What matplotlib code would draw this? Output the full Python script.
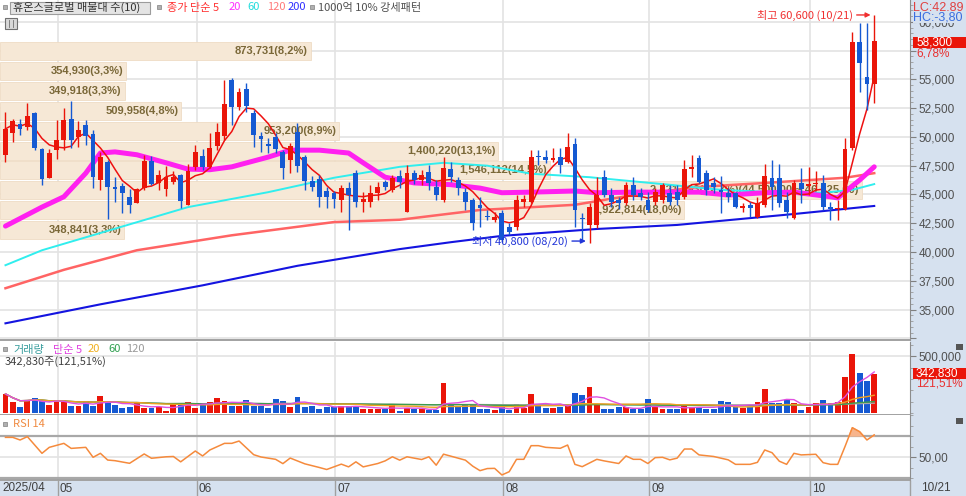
import numpy as np
import pandas as pd
import matplotlib
matplotlib.use('Agg')
import matplotlib.pyplot as plt
from matplotlib.patches import Rectangle
from matplotlib.transforms import blended_transform_factory
from matplotlib.ticker import FixedLocator, MultipleLocator, FuncFormatter

plt.rcParams['font.family'] = ['Noto Sans CJK KR', 'DejaVu Sans']
NUM = ['Liberation Sans Narrow', 'Liberation Sans', 'DejaVu Sans']

# 거래일 (2025/04/22 ~ 2025/10/21)
holidays = pd.to_datetime(['2025-05-01', '2025-05-05', '2025-05-06', '2025-06-03', '2025-06-06',
                           '2025-08-15', '2025-10-03', '2025-10-06', '2025-10-07', '2025-10-08', '2025-10-09'])
dates = pd.bdate_range('2025-04-22', '2025-10-21')
dates = dates[~dates.isin(holidays)]

# 일봉 (시가, 고가, 저가, 종가)
opens = [48450, 50350, 51150, 50900, 52100, 48950, 46450, 48850, 49750, 51550,
         49950, 51050, 50250, 46250, 47850, 45650, 45750, 44800, 44300, 45550,
         47950, 46000, 45450, 46100, 46700, 44100, 47400, 48350, 47400, 49200,
         50100, 54950, 52600, 54150, 52100, 50100, 49400, 50000, 48700, 48000,
         50450, 48250, 46150, 46350, 45300, 45150, 44500, 45550, 46850, 44350,
         44350, 45150, 46100, 45400, 46600, 43500, 46850, 46250, 46950, 45650,
         44500, 47200, 46250, 45200, 44500, 44100, 43150, 42800, 43400, 42150,
         42150, 44350, 44350, 48350, 48250, 48000, 48250, 47800, 49400, 42950,
         42350, 42350, 46500, 44950, 44500, 44250, 45800, 45150, 44500, 44350,
         44500, 45150, 45200, 44800, 47200, 48150, 46850, 46000, 45400, 45150,
         45150, 43850, 44100, 43050, 44100, 46450, 46450, 44500, 42950, 46000,
         45750, 45900, 46000, 43900, 43750, 43750, 49050, 58250, 55200, 54600]
highs = [52200, 51550, 51550, 52950, 52150, 49000, 48950, 51500, 52550, 53150,
         51400, 51500, 50600, 48650, 48000, 46550, 46000, 45500, 45550, 48450,
         48300, 47150, 47500, 47000, 46800, 47650, 49300, 48950, 50350, 51200,
         54950, 55150, 54250, 54700, 52350, 50450, 49900, 50350, 48850, 49500,
         51200, 48450, 46600, 46700, 45650, 45300, 45850, 46100, 47150, 45200,
         45850, 46100, 46250, 46700, 47150, 47550, 47150, 47150, 47550, 46250,
         48250, 47850, 46500, 45550, 44700, 44800, 43650, 43500, 43650, 42500,
         44950, 44950, 48850, 48850, 48850, 49050, 49050, 50350, 49900, 43400,
         44250, 46500, 47150, 45550, 44800, 46100, 46500, 45550, 45200, 45550,
         46000, 45800, 45850, 48000, 48450, 48450, 47150, 46500, 46600, 45550,
         45200, 44250, 44350, 44800, 47650, 48000, 47650, 45200, 46250, 47300,
         47400, 47000, 46700, 44350, 44500, 49900, 59150, 59900, 59900, 60600]
lows = [47850, 49600, 50150, 50600, 48850, 45800, 46400, 48100, 48850, 49050,
        49150, 49300, 45550, 45350, 42850, 44350, 43400, 43400, 44250, 45400,
        45800, 45400, 44850, 45950, 43850, 44050, 47150, 47150, 47300, 48850,
        49750, 51050, 52350, 52150, 49150, 48700, 48600, 48600, 46350, 46850,
        46950, 45400, 45300, 43900, 43850, 43850, 43500, 41900, 43900, 43500,
        43900, 44500, 45400, 45200, 45550, 43450, 45900, 45800, 45400, 44500,
        44350, 46100, 44950, 43650, 41900, 42150, 42800, 42600, 40900, 41500,
        41900, 43950, 44300, 47550, 47750, 47800, 46850, 47750, 42150, 41050,
        40800, 42100, 44800, 43900, 43750, 44100, 44500, 44500, 43450, 44100,
        44250, 44100, 44100, 44600, 46550, 46000, 44950, 45150, 43400, 44350,
        43800, 43450, 43050, 42950, 43900, 43650, 43900, 42950, 42900, 44250,
        44950, 45400, 43650, 42800, 42800, 43650, 48850, 53900, 52350, 52950]
closes = [50700, 51400, 50700, 51850, 49050, 46350, 48600, 49750, 51500, 49750,
          50600, 50050, 46550, 48250, 45650, 45450, 45150, 44100, 45500, 47950,
          45950, 46700, 46550, 46500, 44450, 47000, 48650, 47400, 49050, 50450,
          52850, 52600, 53900, 52700, 50150, 49800, 49200, 48950, 47300, 49200,
          47500, 46150, 45650, 44800, 44800, 44600, 45550, 44950, 44350, 44600,
          45150, 45650, 45650, 46450, 46100, 46850, 46250, 46700, 46000, 44950,
          47300, 46500, 45550, 44350, 42500, 43800, 43050, 43050, 41050, 41750,
          44500, 44600, 48250, 48250, 48000, 48150, 47550, 49150, 43650, 42850,
          43900, 44950, 44950, 44350, 44250, 45800, 44950, 44800, 43650, 45200,
          45800, 44350, 44500, 47200, 47400, 46100, 45400, 45650, 45200, 44800,
          43900, 44000, 43800, 44250, 46600, 45650, 44250, 43500, 46000, 45500,
          45950, 45950, 43900, 43750, 43850, 48950, 58250, 56450, 54600, 58300]
volumes = [170000, 102000, 58000, 117000, 137000, 111000, 73000, 102000, 102000, 64000,
           64000, 108000, 64000, 152000, 94000, 73000, 44000, 58000, 94000, 44000,
           44000, 53000, 23000, 88000, 94000, 102000, 44000, 73000, 97000, 137000,
           111000, 64000, 64000, 117000, 64000, 64000, 47000, 123000, 111000, 58000,
           143000, 58000, 64000, 41000, 58000, 58000, 64000, 64000, 64000, 35000,
           35000, 41000, 41000, 82000, 23000, 44000, 35000, 41000, 29000, 29000,
           269000, 73000, 64000, 82000, 73000, 35000, 35000, 29000, 64000, 29000,
           82000, 44000, 170000, 82000, 50000, 50000, 58000, 82000, 175000, 161000,
           228000, 73000, 35000, 41000, 53000, 53000, 35000, 35000, 123000, 53000,
           35000, 35000, 35000, 82000, 58000, 53000, 35000, 35000, 108000, 99000,
           58000, 44000, 58000, 99000, 211000, 94000, 88000, 117000, 88000, 29000,
           58000, 94000, 117000, 94000, 102000, 316000, 520000, 351000, 282140, 342830]

# 이동평균선 (그림에서 읽은 값, 거래일 번호 기준)
ma20_day = [0, 5, 8, 11, 13, 15, 18, 22, 25, 28, 31, 36, 39, 43, 47, 49, 52, 56, 61, 65,
            68, 72, 78, 81, 86, 95, 99, 104, 108, 113, 114, 117, 119]
ma20_val = [42250, 43900, 44800, 46850, 48600, 48700, 48450, 47750, 47200, 47150, 47400,
            48250, 48850, 48850, 48600, 47750, 46500, 46000, 45850, 45550, 45150, 45200,
            45300, 45150, 45200, 45200, 44950, 45150, 45200, 44800, 44700, 46250, 47400]
ma60_day = [0, 5, 25, 36, 45, 54, 60, 66, 72, 80, 90, 98, 105, 112, 116, 119]
ma60_val = [38850, 40150, 43900, 45200, 46450, 47400, 47750, 47500, 46800, 46500, 45900,
            45400, 45200, 45150, 45400, 45900]
ma120_day = [0, 8, 18, 31, 45, 54, 65, 78, 86, 95, 104, 115, 119]
ma120_val = [36850, 38450, 40150, 41450, 42600, 42800, 43650, 44100, 44950, 45650, 46000,
             46450, 46850]
ma200_day = [0, 13, 27, 40, 54, 61, 68, 81, 92, 108, 119]
ma200_val = [33800, 35450, 37100, 38800, 40250, 40850, 41400, 42000, 42350, 43300, 44000]

# RSI 14
rsi_day = [0, 1, 2, 3, 5, 6, 8, 9, 11, 12, 13, 14, 15, 17, 19, 20, 22, 23, 24, 26, 27, 28,
           30, 31, 32, 34, 35, 37, 38, 39, 41, 43, 44, 46, 47, 48, 49, 51, 52, 53, 54, 55,
           57, 58, 59, 60, 63, 64, 65, 66, 67, 68, 69, 70, 71, 72, 73, 74, 76, 77, 78, 79,
           81, 82, 84, 85, 86, 87, 88, 89, 90, 91, 92, 93, 94, 95, 97, 99, 100, 102, 103,
           104, 105, 106, 107, 108, 109, 111, 112, 113, 114, 115, 116, 117, 118, 119]
rsi_val = [68.7, 68.7, 66.2, 69.4, 53.5, 59.2, 63.0, 58.2, 59.2, 49.7, 53.5, 47.1, 46.5,
           44.0, 52.9, 48.8, 50.2, 50.5, 45.4, 55.7, 51.0, 56.7, 63.0, 63.0, 65.2, 52.2,
           50.0, 47.8, 43.7, 49.0, 43.5, 40.0, 38.1, 43.2, 40.6, 45.4, 40.6, 43.8, 46.3,
           50.2, 47.0, 50.2, 47.6, 50.2, 42.2, 52.7, 47.0, 41.3, 37.0, 39.0, 39.2, 32.9,
           36.0, 47.8, 47.8, 60.8, 60.8, 59.2, 58.3, 61.4, 43.0, 40.8, 47.8, 46.3, 43.8,
           51.0, 47.8, 47.8, 43.8, 49.4, 49.7, 47.3, 48.9, 57.6, 57.6, 52.0, 50.5, 47.3,
           43.0, 43.0, 44.9, 56.7, 54.1, 46.0, 43.0, 53.5, 52.0, 52.6, 44.6, 43.0, 43.0,
           60.0, 77.9, 74.1, 66.2, 71.0]

# 매물대 (위에서 아래 순서)
band_vol = [873731, 354930, 349918, 509958, 953200, 1400220, 1546112, 2421893, 1922814, 348841]

RED = '#ea1509'
BLUE = '#1559d2'
GRID = '#e3e3e3'
W, H = 966, 496
XMIN, XMAX = -0.75, 123.9


def kr(v, d=2):
    return f'{v:,.{d}f}'.replace('.', '#').replace('#', ',')


def fpos(x, y):
    return x / W, 1 - y / H


o = np.array(opens, float)
h = np.array(highs, float)
l = np.array(lows, float)
c = np.array(closes, float)
v = np.array(volumes, float)
idx = np.arange(len(c))
up = c >= o
col = np.where(up, RED, BLUE)
month_start = [i for i in range(1, len(dates)) if dates[i].month != dates[i - 1].month]

fig = plt.figure(figsize=(W / 100, H / 100), dpi=100)
fig.patches.append(Rectangle(fpos(910, 496), 56 / W, 1, transform=fig.transFigure,
                             facecolor='#d6e1ef', edgecolor='none', zorder=-1))
fig.patches.append(Rectangle((0, 0), 1, 15 / H, transform=fig.transFigure,
                             facecolor='#d6e1ef', edgecolor='none', zorder=-1))

ax_p = fig.add_axes([0, 1 - 340 / H, 910 / W, 340 / H])
ax_v = fig.add_axes([0, 1 - 415 / H, 910 / W, 73 / H])
ax_r = fig.add_axes([0, 1 - 480 / H, 910 / W, 65 / H])

for ax in (ax_p, ax_v, ax_r):
    ax.set_xlim(XMIN, XMAX)
    ax.set_xticks([])
    ax.yaxis.tick_right()
    for s in ('top', 'left'):
        ax.spines[s].set_visible(False)
    ax.spines['right'].set_color('#8c8c8c')
    ax.spines['bottom'].set_color('#9a9a9a')
    ax.spines['bottom'].set_linewidth(1.3)
    ax.tick_params(axis='y', which='major', direction='out', length=4, width=0.8,
                   color='#808080', pad=2, labelsize=8.5, labelcolor='#505050')
    ax.tick_params(axis='y', which='minor', direction='out', length=2, width=0.6,
                   color='#9a9a9a')
    for m in month_start:
        ax.axvline(m + 0.2, color=GRID, lw=1.2, zorder=0.5)

# ---------------- 가격 ----------------
ax_p.set_ylim(32350, 61900)
ax_p.yaxis.set_major_locator(MultipleLocator(2500))
ax_p.yaxis.set_minor_locator(MultipleLocator(500))
ax_p.yaxis.set_major_formatter(
    FuncFormatter(lambda y, p: '' if (y == 57500 or y < 35000) else f'{y:,.0f}'))
ax_p.grid(axis='y', color=GRID, lw=1.2, zorder=0.5)
ax_p.set_axisbelow(True)

# 매물대 가로 막대
edges = np.linspace(c.min(), c.max(), len(band_vol) + 1)[::-1]
step = edges[0] - edges[1]
total = sum(band_vol)
vmax = max(band_vol)
tr = blended_transform_factory(ax_p.transAxes, ax_p.transData)
for i, bv in enumerate(band_vol):
    hi, lo = edges[i], edges[i + 1]
    frac = bv / vmax * 0.947
    ax_p.add_patch(Rectangle((0, lo + step * 0.05), frac, step * 0.9, transform=tr,
                             facecolor='#f6e8d6', edgecolor='#efdcc4', lw=0.6, zorder=1))
    label = f'{bv:,}({kr(bv / total * 100, 1)}%)'
    if bv == vmax:
        label += f'({kr(lo)} ~ {kr(hi)})'
    ax_p.text(frac - 3 / 910, (hi + lo) / 2, label, transform=tr, ha='right', va='center',
              fontsize=8, color='#7a6838', fontweight='bold',
              family=['Liberation Sans', 'DejaVu Sans'], zorder=1.5)

# 이동평균선
ma5 = pd.Series(c).rolling(5, min_periods=1).mean()
ax_p.plot(ma200_day, ma200_val, color='#1414e0', lw=1.5, zorder=2)
ax_p.plot(ma120_day, ma120_val, color='#ff6464', lw=1.8, zorder=2)
ax_p.plot(ma60_day, ma60_val, color='#30eeee', lw=1.4, zorder=2)
ax_p.plot(ma20_day, ma20_val, color='#ff20f0', lw=3.6, zorder=2.2, solid_capstyle='round')
ax_p.plot(idx, ma5, color='#ee1010', lw=1.1, zorder=2.4)

# 캔들
ax_p.vlines(idx, l, h, colors=col, lw=1.0, zorder=3)
ax_p.bar(idx, np.maximum(np.abs(c - o), 60), bottom=np.minimum(o, c), width=0.66,
         color=col, linewidth=0, zorder=4)

# 최고 / 최저 표시
hi_i = int(np.argmax(h))
lo_i = int(np.argmin(l))
ax_p.annotate(f'최고 {h[hi_i]:,.0f} ({dates[hi_i]:%m/%d})', xy=(hi_i - 0.5, h[hi_i]),
              xytext=(-13, 0), textcoords='offset points', ha='right', va='center',
              fontsize=8, color='#f03030', zorder=6,
              arrowprops=dict(arrowstyle='-|>', color='#f03030', lw=1, shrinkA=1, shrinkB=0,
                              mutation_scale=7))
ax_p.annotate(f'최저 {l[lo_i]:,.0f} ({dates[lo_i]:%m/%d})', xy=(lo_i - 0.5, l[lo_i] + 150),
              xytext=(-13, 0), textcoords='offset points', ha='right', va='center',
              fontsize=8, color='#2236d8', zorder=6,
              arrowprops=dict(arrowstyle='-|>', color='#2236d8', lw=1, shrinkA=1, shrinkB=0,
                              mutation_scale=7))

# ---------------- 거래량 ----------------
ax_v.set_ylim(-15000, 625000)
ax_v.yaxis.set_major_locator(FixedLocator([500000]))
ax_v.yaxis.set_minor_locator(MultipleLocator(100000))
ax_v.yaxis.set_major_formatter(FuncFormatter(lambda y, p: f'{y:,.0f}'))
ax_v.grid(axis='y', color=GRID, lw=1.2, zorder=0.5)
ax_v.set_axisbelow(True)
ax_v.bar(idx, v, width=0.8, color=col, linewidth=0, zorder=2)
vs = pd.Series(v)
for win, cl in ((120, '#a8a8a8'), (60, '#3c9c4c'), (20, '#f0a020'), (5, '#e050e0')):
    ax_v.plot(idx, vs.rolling(win, min_periods=1).mean(), color=cl, lw=1.0, zorder=3)

# ---------------- RSI ----------------
ax_r.set_ylim(28.1, 90)
ax_r.yaxis.set_major_locator(FixedLocator([50]))
ax_r.yaxis.set_minor_locator(MultipleLocator(10))
ax_r.yaxis.set_major_formatter(FuncFormatter(lambda y, p: kr(y)))
ax_r.axhline(50, color=GRID, lw=1.2, zorder=0.5)
ax_r.axhline(70, color='#a8a8a8', lw=1.6, zorder=1)
ax_r.axhline(30, color='#a8a8a8', lw=1.6, zorder=1)
rd = np.array(rsi_day, float)
rv = np.array(rsi_val, float)
ax_r.fill_between(rd, rv, 70, where=rv > 70, interpolate=True, color='#f7b48c', zorder=1.5)
ax_r.plot(rd, rv, color='#f58a3c', lw=1.1, zorder=2)

for ax in (ax_p, ax_v, ax_r):
    for t in ax.get_yticklabels():
        t.set_family(NUM)

# ---------------- 날짜 축 ----------------
trx = blended_transform_factory(ax_r.transData, fig.transFigure)
for m in month_start:
    ax_r.plot([m + 0.2, m + 0.2], [0, 15 / H], transform=trx, color='#a0a0a0', lw=1,
              clip_on=False)
    ax_r.text(m + 0.45, 7.5 / H, f'{dates[m]:%m}', transform=trx, ha='left', va='center',
              fontsize=8.5, color='#404040', family=NUM)
fig.text(*fpos(2, 488), f'{dates[0]:%Y/%m}', ha='left', va='center', fontsize=8.5,
         color='#404040', family=NUM)
fig.text(*fpos(921, 488), f'{dates[-1]:%m/%d}', ha='left', va='center', fontsize=8.5,
         color='#404040', family=NUM)
fig.add_artist(plt.Line2D([910 / W, 910 / W], [0, 15 / H], color='#a0a0a0', lw=1))


# ---------------- 제목 / 범례 글자 ----------------
def bullet(x, y):
    fig.patches.append(Rectangle(fpos(x, y + 2), 4 / W, 4 / H, transform=fig.transFigure,
                                 facecolor='#b0b0b0', edgecolor='#808080', lw=0.5))


def label(x, y, s, color, size=8, family=None):
    fig.text(*fpos(x, y), s, ha='left', va='center', fontsize=size, color=color,
             family=family or ['Noto Sans CJK KR', 'DejaVu Sans'])


bullet(3, 7)
fig.patches.append(Rectangle(fpos(10, 14), 140 / W, 12 / H, transform=fig.transFigure,
                             facecolor='#e4e4e4', edgecolor='#9c9c9c', lw=0.8))
label(13, 7.5, '휴온스글로벌 매물대 수(10)', '#333333')
bullet(157, 7)
label(167, 7.5, '종가 단순 5', '#ff3030')
label(229, 7.5, '20', '#ff30ff')
label(247, 7.5, '60', '#20dcdc')
label(267, 7.5, '120', '#ff7a7a')
label(288, 7.5, '200', '#3030ff')
bullet(310, 7)
label(318, 7.5, '1000억 10% 강세패턴', '#505050')
fig.patches.append(Rectangle(fpos(5, 29), 12 / W, 11 / H, transform=fig.transFigure,
                             facecolor='#d8d8d8', edgecolor='#707070', lw=0.8))
for xx in (9, 13):
    fig.add_artist(plt.Line2D([xx / W, xx / W], [1 - 27 / H, 1 - 20 / H], color='#707070',
                              lw=0.6))

bullet(3, 349)
label(13, 349.5, '거래량', '#3a9e9e')
label(53, 349.5, '단순 5', '#e040e0')
label(88, 349.5, '20', '#f0b020')
label(108, 349.5, '60', '#30a050')
label(126, 349.5, '120', '#9a9a9a')
label(5, 362, f'{v[-1]:,.0f}주({kr(v[-1] / v[-2] * 100)}%)', '#404040')

bullet(3, 424)
label(13, 424, 'RSI 14', '#f08a40')

# ---------------- 오른쪽 축 표시 ----------------
lc = (c[-1] / l.min() - 1) * 100
hc = (c[-1] / h.max() - 1) * 100
chg = (c[-1] / c[-2] - 1) * 100
fig.text(*fpos(913, 7), f'LC:{kr(lc)}', ha='left', va='center', fontsize=9, color='#e04040',
         family=NUM)
fig.text(*fpos(913, 17), f'HC:{kr(hc)}', ha='left', va='center', fontsize=9, color='#3a6ee0',
         family=NUM, bbox=dict(facecolor='#d6e1ef', edgecolor='none', pad=0.2))
fig.patches.append(Rectangle(fpos(913, 48), 53 / W, 11 / H, transform=fig.transFigure,
                             facecolor='#ea1509', edgecolor='none', zorder=5))
fig.text(*fpos(916, 42.5), f'{c[-1]:,.0f}', ha='left', va='center', fontsize=8.5,
         color='white', family=NUM, zorder=6)
fig.text(*fpos(916, 53), f'{kr(chg)}%', ha='left', va='center', fontsize=8.5,
         color='#e83030', family=NUM)
fig.patches.append(Rectangle(fpos(913, 379), 53 / W, 11 / H, transform=fig.transFigure,
                             facecolor='#ea1509', edgecolor='none', zorder=5))
fig.text(*fpos(916, 373.5), f'{v[-1]:,.0f}', ha='left', va='center', fontsize=8.5,
         color='white', family=NUM, zorder=6)
fig.text(*fpos(916, 384), f'{kr(v[-1] / v[-2] * 100)}%', ha='left', va='center',
         fontsize=8.5, color='#e83030', family=NUM)
for yy in (350, 424):
    fig.patches.append(Rectangle(fpos(956, yy), 7 / W, 6 / H, transform=fig.transFigure,
                                 facecolor='#555555', edgecolor='none'))

fig.savefig('out.png', dpi=100)
